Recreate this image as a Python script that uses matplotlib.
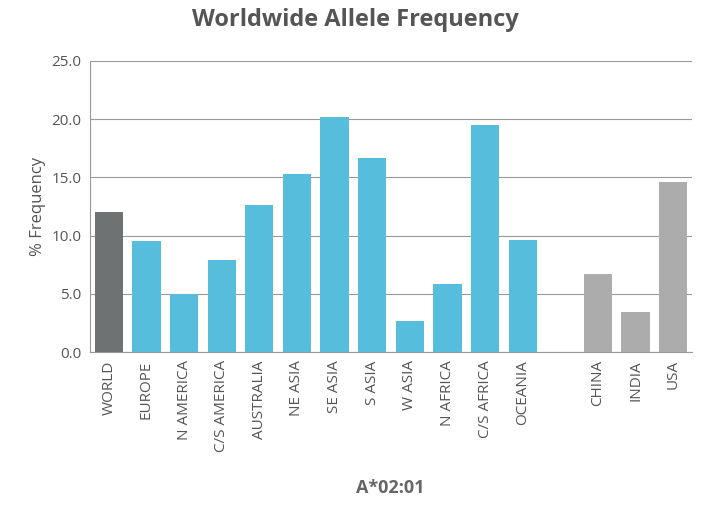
import matplotlib
matplotlib.use("Agg")
import matplotlib.pyplot as plt

categories = ["WORLD","EUROPE","N AMERICA","C/S AMERICA","AUSTRALIA","NE ASIA","SE ASIA","S ASIA","W ASIA","N AFRICA","C/S AFRICA","OCEANIA","","CHINA","INDIA","USA"]
values = [12.0,9.5,5.0,7.9,12.6,15.3,20.2,16.7,2.7,5.8,19.5,9.6,0,6.7,3.4,14.6]
colors = ["#6e7272"] + ["#56bddc"]*11 + ["none"] + ["#acacac"]*3

plt.rcParams['font.family'] = ['Open Sans', 'DejaVu Sans']
fig = plt.figure(figsize=(7.10,5.07), dpi=100)
ax = fig.add_axes([90/710, 1-352/507, 602/710, 291/507])
x = list(range(len(categories)))
ax.bar(x, values, width=0.75, color=colors, zorder=3)
ax.set_xlim(-0.5, len(categories)-0.5)
ax.set_ylim(0, 25)
ax.set_yticks([0,5,10,15,20,25])
ax.set_yticklabels([f"{v:.1f}" for v in [0,5,10,15,20,25]], color="#555555", fontsize=11)
ax.set_xticks(x)
ax.set_xticklabels(categories, rotation=90, color="#555555", fontsize=11)
ax.tick_params(length=0, pad=6)
ax.grid(axis='y', color="#999999", linewidth=0.8, zorder=0)
for s in ["top","right"]:
    ax.spines[s].set_visible(False)
ax.spines["left"].set_color("#999999")
ax.spines["bottom"].set_color("#999999")
ax.set_ylabel("% Frequency", color="#555555", fontsize=12)
fig.text(0.5, 1-20/507, "Worldwide Allele Frequency", ha="center", va="center", fontsize=17, color="#555555", fontweight="bold")
fig.text(0.55, 1-488/507, "A*02:01", ha="center", va="center", fontsize=13, color="#666666", fontweight="bold")
fig.savefig("out.png", dpi=100)
